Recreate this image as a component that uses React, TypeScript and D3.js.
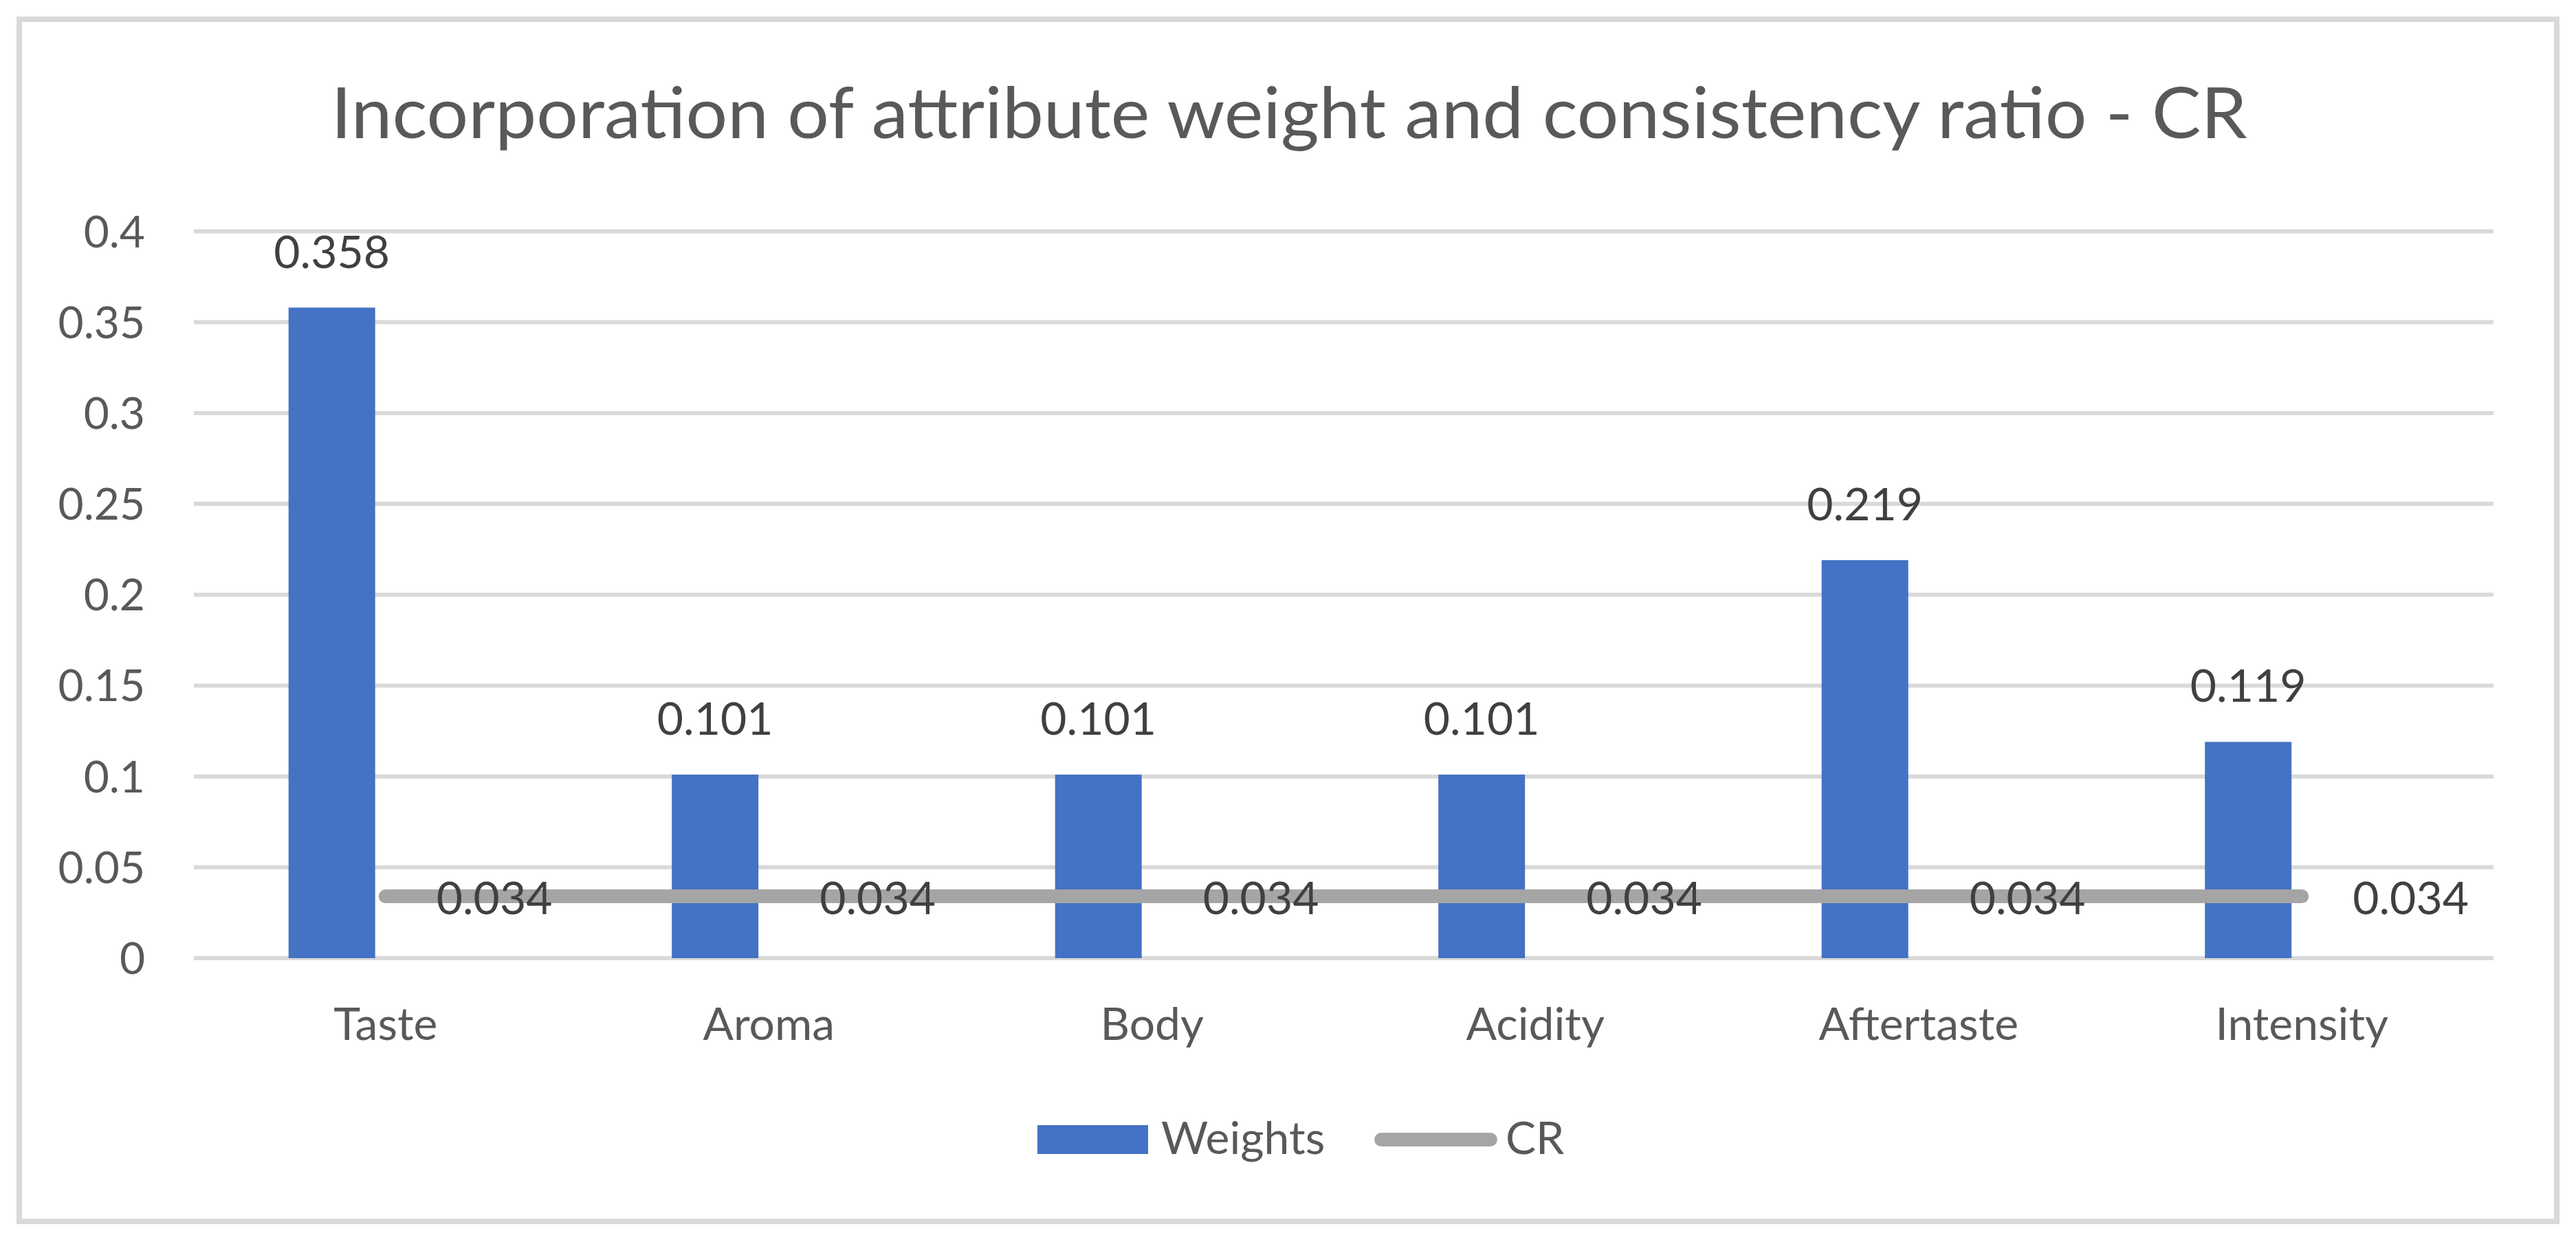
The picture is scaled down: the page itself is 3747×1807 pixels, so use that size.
import React from "react";
import * as d3 from "d3";

const categories = ["Taste", "Aroma", "Body", "Acidity", "Aftertaste", "Intensity"];
const weights = [0.358, 0.101, 0.101, 0.101, 0.219, 0.119];
const crValues = [0.034, 0.034, 0.034, 0.034, 0.034, 0.034];
const yTicks = [0, 0.05, 0.1, 0.15, 0.2, 0.25, 0.3, 0.35, 0.4];
const title = "Incorporation of attribute weight and consistency ratio - CR";
const legendLabels = ["Weights", "CR"];

const W = 3747;
const H = 1807;
const FONT = "Lato, 'Open Sans', sans-serif";
const BLUE = "#4472C4";
const GRAY = "#A5A5A5";
const GRID = "#D9D9D9";
const TEXT = "#595959";
const LABEL = "#404040";

export default function App() {
  const x = d3.scaleBand<string>().domain(categories).range([282, 3627]).paddingInner(0).paddingOuter(0);
  const y = d3.scaleLinear().domain([0, 0.4]).range([1394, 336.5]);
  const bw = x.bandwidth();
  const cx = (c: string) => (x(c) as number) + bw / 2;
  const barOff = -0.253 * bw;
  const barW = 0.226 * bw;
  const line = d3
    .line<number>()
    .x((_, i) => cx(categories[i]))
    .y((d) => y(d));

  return (
    <svg width={W} height={H} style={{ position: "absolute", left: 0, top: 0, background: "#fff" }} fontFamily={FONT}>
      <rect x={0} y={0} width={W} height={H} fill="#fff" />
      <rect x={28} y={28} width={3691} height={1749} fill="none" stroke={GRID} strokeWidth={8} />
      <text x={1875} y={201} textAnchor="middle" fontSize={103} fill={TEXT} textLength={2787} lengthAdjust="spacingAndGlyphs">
        {title}
      </text>
      {yTicks.map((t) => (
        <g key={t}>
          <line x1={282} x2={3627} y1={y(t)} y2={y(t)} stroke={GRID} strokeWidth={6} />
          <text x={211} y={y(t) + 23} textAnchor="end" fontSize={64} fill={TEXT}>
            {String(t)}
          </text>
        </g>
      ))}
      {categories.map((c, i) => (
        <g key={c}>
          <rect x={cx(c) + barOff} y={y(weights[i])} width={barW} height={y(0) - y(weights[i])} fill={BLUE} />
          <text x={cx(c) + barOff + barW / 2} y={y(weights[i]) - 58} textAnchor="middle" fontSize={66} fill={LABEL}>
            {weights[i].toFixed(3)}
          </text>
          <text x={cx(c)} y={1513} textAnchor="middle" fontSize={66} fill={TEXT}>
            {c}
          </text>
        </g>
      ))}
      <path d={line(crValues) || ""} fill="none" stroke={GRAY} strokeWidth={20} strokeLinecap="round" strokeLinejoin="round" />
      {categories.map((c, i) => (
        <text key={c + "cr"} x={cx(c) + 74} y={y(crValues[i]) + 26} fontSize={66} fill={LABEL}>
          {crValues[i].toFixed(3)}
        </text>
      ))}
      <rect x={1509} y={1637} width={161} height={42} fill={BLUE} />
      <text x={1689} y={1679} fontSize={66} fill={TEXT}>
        {legendLabels[0]}
      </text>
      <line x1={2009} x2={2168} y1={1658} y2={1658} stroke={GRAY} strokeWidth={20} strokeLinecap="round" />
      <text x={2190} y={1679} fontSize={66} fill={TEXT}>
        {legendLabels[1]}
      </text>
    </svg>
  );
}
